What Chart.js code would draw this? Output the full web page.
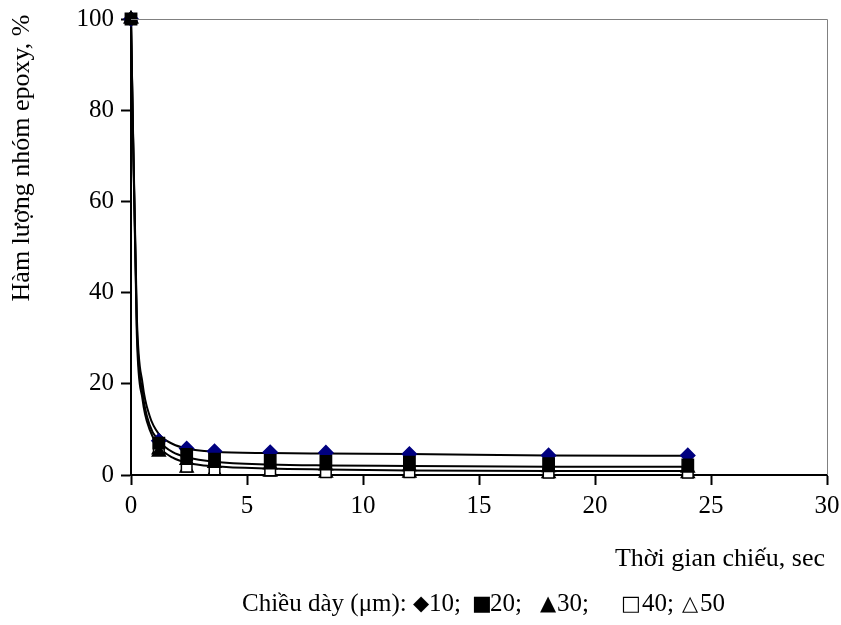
<!DOCTYPE html>
<html>
<head>
<meta charset="utf-8">
<script src="https://cdn.jsdelivr.net/npm/chart.js@4"></script>
<style>
  body { margin: 0; background: #fff; }
  #wrap { width: 841px; height: 625px; }
</style>
</head>
<body>
<div id="wrap"><canvas id="chart" width="841" height="625"></canvas></div>
<script>
// irradiation time, sec
const times = [0, 1.2, 2.4, 3.6, 6, 8.4, 12, 18, 24];
// epoxy group content, % - one list per film thickness (um)
const epoxy10 = [100, 7.5, 5.8, 5.2, 5.0, 4.9, 4.6, 4.3, 4.3];
const epoxy20 = [100, 7.0, 4.5, 3.5, 3.2, 3.0, 2.8, 2.5, 2.2];
const epoxy30 = [100, 5.0, 3.2, 2.5, 2.2, 2.0, 1.8, 1.6, 1.5];
const epoxy40 = [100, 6.0, 1.8, 1.2, 1.0, 0.6, 0.6, 0.5, 0.5];
const epoxy50 = [100, 5.5, 1.5, 0.8, 0.6, 0.4, 0.4, 0.3, 0.3];

// fitted curves, values
const trendX = [0, 0.25, 0.5, 0.8, 1.2, 1.8, 2.4, 3.6, 6, 8.4, 12, 18, 24];
const trendHigh = [100, 35, 20, 13, 9.0, 6.8, 5.8, 5.1, 4.8, 4.7, 4.6, 4.3, 4.2];
const trendMid  = [100, 33, 18, 11, 7.5, 5.0, 3.9, 2.9, 2.3, 2.1, 2.0, 1.8, 1.8];
const trendLow  = [100, 31, 16.5, 10, 6.2, 3.8, 2.7, 1.9, 1.4, 1.2, 1.0, 0.9, 0.9];

const xTicks = [0, 5, 10, 15, 20, 25, 30];
const yTicks = [0, 20, 40, 60, 80, 100];

const serif = "'Liberation Serif', 'Times New Roman', serif";
Chart.defaults.font.family = serif;
Chart.defaults.font.size = 25;
Chart.defaults.color = '#000';

function pts(xs, ys) {
  return xs.map((x, i) => ({ x: x, y: ys[i] }));
}

function markers(label, ys, style, fill, radius, order) {
  return {
    label: label,
    data: pts(times, ys),
    showLine: false,
    pointStyle: style,
    pointRadius: radius,
    pointBackgroundColor: fill,
    pointBorderColor: fill === '#000080' ? '#000080' : '#000',
    pointBorderWidth: 1.5,
    clip: false,
    order: order
  };
}

function trend(ys) {
  return {
    data: pts(trendX, ys),
    showLine: true,
    borderColor: '#000',
    borderWidth: 2,
    pointRadius: 0,
    cubicInterpolationMode: 'monotone',
    fill: false,
    clip: false,
    order: 10
  };
}

const frameAndText = {
  id: 'frameAndText',
  afterDraw(chart) {
    const ctx = chart.ctx;
    const a = chart.chartArea;
    ctx.save();
    // thin grey frame on top and right
    ctx.strokeStyle = '#808080';
    ctx.lineWidth = 1;
    ctx.beginPath();
    ctx.moveTo(a.left, a.top + 0.5);
    ctx.lineTo(a.right + 0.5, a.top + 0.5);
    ctx.lineTo(a.right + 0.5, a.bottom);
    ctx.stroke();

    ctx.fillStyle = '#000';
    // y title
    ctx.save();
    ctx.translate(22, 158);
    ctx.rotate(-Math.PI / 2);
    ctx.textAlign = 'center';
    ctx.textBaseline = 'middle';
    ctx.font = '26px ' + serif;
    ctx.fillText('Hàm lượng nhóm epoxy, %', 0, 0);
    ctx.restore();

    // x title
    ctx.textAlign = 'right';
    ctx.textBaseline = 'alphabetic';
    ctx.font = '26px ' + serif;
    ctx.fillText('Thời gian chiếu, sec', 825, 566);

    // legend line
    const base = 611;
    ctx.textAlign = 'left';
    ctx.font = '25px ' + serif;
    ctx.fillText('Chiều dày (μm):', 242, base);
    const parts = [
      ['◆', 421, '10;', 429],
      ['■', 482, '20;', 490],
      ['▲', 548, '30;', 557],
      ['□', 631, '40;', 642],
      ['△', 690, '50', 700]
    ];
    parts.forEach(p => {
      ctx.font = '21px "DejaVu Sans"';
      ctx.textAlign = 'center';
      ctx.fillText(p[0], p[1], base - 1);
      ctx.font = '25px ' + serif;
      ctx.textAlign = 'left';
      ctx.fillText(p[2], p[3], base);
    });
    ctx.restore();
  }
};

new Chart(document.getElementById('chart'), {
  type: 'scatter',
  data: {
    datasets: [
      markers('10', epoxy10, 'rectRot', '#000080', 7, 2),
      markers('20', epoxy20, 'rect', '#000', 8, 0),
      markers('30', epoxy30, 'triangle', '#000', 7.5, 1),
      markers('40', epoxy40, 'rect', '#fff', 7.5, 3),
      markers('50', epoxy50, 'triangle', '#fff', 7.5, 4),
      trend(trendHigh),
      trend(trendMid),
      trend(trendLow)
    ]
  },
  options: {
    responsive: false,
    animation: false,
    layout: { padding: { left: 0, right: 14, top: 19, bottom: 110 } },
    plugins: { legend: { display: false }, tooltip: { enabled: false } },
    scales: {
      x: {
        type: 'linear',
        min: 0,
        max: 30,
        afterBuildTicks(scale) { scale.ticks = xTicks.map(v => ({ value: v })); },
        afterFit(scale) { scale.height = 40; scale.paddingRight = 0; scale.paddingLeft = 0; },
        border: { display: true, color: '#000', width: 2 },
        grid: { drawOnChartArea: false, drawTicks: true, tickLength: 10, tickWidth: 2, tickColor: '#000' },
        ticks: { padding: 6, font: { size: 25 }, color: '#000', maxRotation: 0 }
      },
      y: {
        type: 'linear',
        min: 0,
        max: 100,
        afterBuildTicks(scale) { scale.ticks = yTicks.map(v => ({ value: v })); },
        afterFit(scale) { scale.width = 131; scale.paddingTop = 0; scale.paddingBottom = 0; },
        border: { display: true, color: '#000', width: 2 },
        grid: { drawOnChartArea: false, drawTicks: true, tickLength: 10, tickWidth: 2, tickColor: '#000' },
        ticks: { padding: 7, font: { size: 25 }, color: '#000' }
      }
    }
  },
  plugins: [frameAndText]
});
</script>
</body>
</html>
